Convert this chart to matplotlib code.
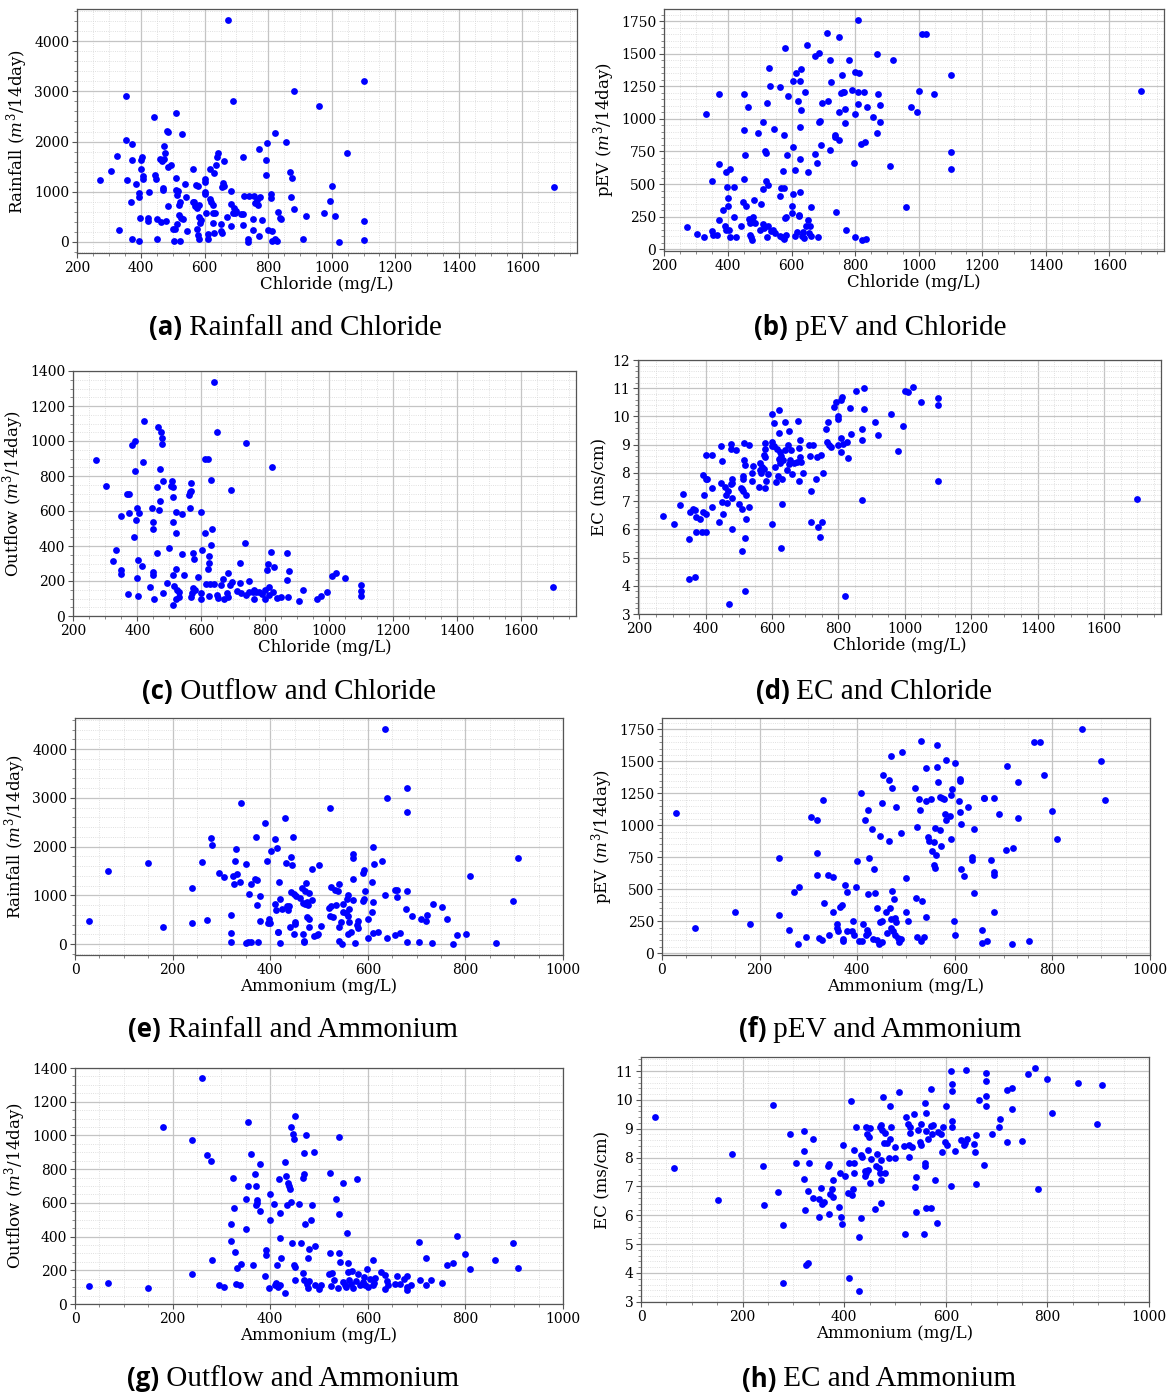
import matplotlib
matplotlib.use("Agg")
import matplotlib.pyplot as plt
from matplotlib.ticker import AutoMinorLocator, MultipleLocator
import numpy as np

plt.rcParams['font.family'] = 'DejaVu Serif'
plt.rcParams['mathtext.fontset'] = 'dejavuserif'

# (a) chloride (mg/L) vs rainfall (m3/14day)
rain_cl = [
    (270, 1230), (305, 1410), (325, 1710), (330, 230), (352, 2900), (353, 2040), (355, 1230),
    (370, 1950), (372, 1640), (372, 50), (367, 800), (385, 1160), (393, 980), (395, 890),
    (393, 20), (398, 480), (400, 1450), (400, 1640), (403, 1700), (405, 1260), (406, 1310),
    (422, 480), (422, 420), (425, 990), (440, 2480), (445, 1330), (448, 1250), (450, 450),
    (450, 50), (460, 1660), (463, 390), (465, 1620), (468, 1040), (470, 1070), (472, 1910),
    (473, 1660), (475, 1780), (480, 420), (482, 2210), (485, 2200), (485, 1500), (485, 710),
    (495, 1530), (500, 260), (503, 20), (508, 260), (510, 2570), (510, 1280), (510, 1030),
    (512, 930), (512, 350), (517, 1010), (520, 530), (520, 740), (522, 800), (523, 20),
    (525, 480), (530, 2160), (532, 460), (538, 1160), (540, 890), (545, 210), (565, 1460),
    (565, 790), (568, 800), (570, 720), (572, 1130), (575, 250), (575, 680), (578, 130),
    (580, 1110), (582, 50), (582, 730), (583, 490), (585, 380), (590, 430), (600, 1200),
    (602, 1250), (602, 1000), (602, 960), (605, 580), (612, 60), (612, 160), (617, 1460),
    (618, 850), (620, 790), (625, 740), (625, 580), (625, 370), (628, 180), (630, 1380),
    (632, 580), (635, 1530), (640, 1700), (642, 1770), (650, 360), (650, 210), (655, 170),
    (655, 1090), (657, 1180), (660, 1120), (662, 1620), (670, 500), (675, 4420), (682, 1020),
    (682, 310), (683, 760), (688, 2800), (690, 570), (692, 670), (695, 580), (700, 620),
    (715, 550), (720, 1700), (722, 550), (722, 330), (725, 920), (735, 0), (738, 50),
    (740, 920), (752, 460), (752, 240), (755, 910), (760, 780), (765, 840), (768, 730),
    (772, 1860), (772, 120), (774, 890), (782, 440), (792, 1330), (794, 1640), (797, 1970),
    (800, 230), (810, 960), (810, 870), (812, 210), (812, 20), (822, 2180), (822, 50),
    (828, 20), (832, 590), (838, 480), (840, 460), (857, 1990), (870, 1390), (872, 890),
    (875, 1270), (880, 3000), (880, 660), (910, 50), (920, 510), (960, 2710), (975, 570),
    (995, 820), (1000, 1110), (1010, 510), (1023, 0), (1048, 1770), (1100, 3200), (1100, 420),
    (1100, 30), (1700, 1100),
]

# (b) chloride vs pEV
pev_cl = [
    (270, 170), (303, 115), (325, 95), (330, 1040), (348, 520), (350, 140), (352, 110),
    (365, 110), (372, 1195), (372, 655), (372, 225), (383, 300), (390, 175), (393, 595),
    (395, 145), (397, 480), (400, 390), (400, 330), (402, 145), (405, 615), (405, 95),
    (418, 250), (420, 480), (425, 95), (440, 175), (447, 365), (450, 1190), (450, 915),
    (450, 535), (452, 720), (455, 330), (462, 1090), (465, 230), (468, 200), (470, 110),
    (472, 90), (475, 70), (478, 250), (480, 210), (483, 375), (485, 200), (493, 895),
    (500, 145), (505, 350), (510, 975), (510, 460), (510, 190), (513, 160), (515, 750),
    (518, 740), (520, 520), (522, 1120), (523, 95), (525, 180), (527, 490), (530, 1395),
    (532, 1255), (535, 140), (540, 150), (543, 925), (548, 120), (562, 100), (565, 1245),
    (565, 410), (568, 470), (570, 95), (572, 600), (575, 80), (577, 880), (577, 470),
    (578, 240), (580, 1545), (582, 250), (582, 105), (585, 725), (590, 1175), (600, 330),
    (602, 280), (603, 1290), (605, 420), (605, 785), (610, 610), (612, 100), (615, 1350),
    (618, 130), (620, 1140), (622, 265), (623, 255), (625, 1290), (625, 940), (625, 435),
    (627, 690), (630, 1385), (630, 1065), (632, 100), (635, 130), (638, 85), (642, 1205),
    (645, 180), (648, 1570), (650, 590), (652, 225), (655, 125), (657, 180), (660, 325),
    (660, 100), (672, 1480), (675, 730), (680, 665), (683, 95), (685, 1510), (685, 975),
    (688, 985), (692, 800), (695, 1120), (712, 1660), (715, 1140), (720, 1450), (722, 765),
    (723, 1285), (735, 880), (737, 865), (740, 285), (748, 1630), (748, 1050), (750, 835),
    (755, 1200), (760, 1340), (762, 1205), (765, 1210), (768, 965), (768, 1075), (770, 145),
    (780, 1455), (790, 1225), (795, 660), (798, 1360), (800, 1040), (800, 95), (808, 1760),
    (810, 1210), (810, 1115), (812, 1350), (818, 810), (820, 70), (828, 1210), (830, 820),
    (835, 75), (838, 1095), (855, 1015), (868, 1500), (870, 895), (873, 1190), (877, 975),
    (877, 1105), (908, 635), (920, 1455), (960, 325), (975, 1095), (995, 1055), (1000, 1215),
    (1010, 1655), (1022, 1650), (1048, 1195), (1100, 1340), (1100, 745), (1100, 615),
    (1700, 1215),
]

# (c) chloride vs outflow
out_cl = [
    (270, 890), (303, 745), (325, 315), (332, 375), (350, 570), (350, 265), (350, 240),
    (368, 700), (372, 125), (375, 700), (375, 590), (383, 975), (390, 450), (392, 830),
    (393, 1000), (397, 550), (400, 620), (400, 215), (402, 320), (402, 115), (405, 590),
    (415, 285), (418, 880), (422, 1115), (440, 165), (447, 615), (448, 535), (448, 250),
    (448, 235), (450, 500), (453, 100), (460, 740), (462, 360), (465, 1080), (468, 605),
    (470, 840), (470, 655), (473, 1050), (478, 1015), (478, 985), (480, 770), (480, 130),
    (493, 190), (500, 390), (505, 745), (508, 770), (510, 735), (510, 680), (510, 540),
    (510, 235), (510, 65), (515, 170), (520, 595), (520, 475), (520, 270), (522, 100),
    (525, 150), (530, 110), (530, 140), (538, 585), (538, 355), (545, 235), (562, 690),
    (565, 620), (565, 710), (568, 715), (568, 760), (568, 110), (572, 130), (575, 160),
    (575, 360), (578, 325), (580, 150), (588, 225), (600, 595), (600, 130), (600, 100),
    (603, 375), (610, 900), (612, 475), (615, 185), (620, 895), (622, 270), (623, 305),
    (623, 345), (625, 115), (628, 185), (630, 775), (630, 405), (632, 500), (638, 1340),
    (640, 185), (648, 1050), (650, 120), (653, 105), (660, 180), (668, 210), (672, 95),
    (680, 130), (682, 245), (683, 110), (690, 180), (693, 720), (695, 195), (710, 145),
    (720, 305), (720, 190), (725, 130), (735, 420), (738, 990), (740, 120), (748, 200),
    (750, 135), (760, 140), (765, 100), (765, 150), (770, 140), (780, 140), (790, 125),
    (798, 100), (800, 150), (805, 265), (808, 300), (810, 165), (812, 120), (818, 365),
    (820, 850), (825, 140), (828, 280), (835, 105), (850, 110), (868, 360), (868, 205),
    (870, 110), (875, 260), (905, 85), (918, 150), (960, 100), (975, 115), (993, 135),
    (1010, 230), (1020, 245), (1048, 215), (1100, 180), (1100, 145), (1100, 115), (1700, 165),
]

# (d) chloride vs EC
ec_cl = [
    (272, 6.48), (305, 6.18), (322, 6.85), (332, 7.25), (352, 6.62), (350, 5.67), (350, 4.23),
    (362, 6.72), (368, 4.32), (368, 6.68), (370, 5.9), (372, 6.42), (383, 6.35), (390, 5.9),
    (392, 7.93), (393, 6.62), (395, 7.2), (400, 6.55), (400, 5.92), (400, 7.8), (402, 8.65),
    (405, 7.8), (418, 8.65), (418, 7.47), (420, 6.8), (440, 6.27), (445, 8.95), (446, 7.65),
    (448, 6.97), (450, 8.42), (452, 6.55), (458, 7.5), (460, 7.2), (463, 6.95), (468, 7.35),
    (470, 3.36), (475, 9.02), (475, 7.6), (477, 8.83), (479, 7.65), (480, 7.8), (480, 6.0),
    (480, 7.1), (490, 8.8), (500, 6.88), (505, 7.45), (508, 7.42), (510, 6.73), (510, 5.23),
    (512, 7.9), (512, 7.8), (512, 7.35), (515, 9.05), (515, 8.45), (518, 8.27), (518, 5.7),
    (518, 3.8), (522, 7.2), (522, 6.38), (530, 9.0), (530, 6.78), (540, 7.98), (540, 7.7),
    (542, 8.25), (560, 7.5), (563, 8.35), (565, 8.1), (568, 8.0), (570, 8.2), (575, 8.65),
    (575, 8.15), (578, 7.45), (580, 9.05), (580, 8.85), (580, 8.55), (582, 7.72), (588, 7.95),
    (600, 9.1), (600, 8.95), (600, 6.2), (600, 10.1), (605, 8.95), (607, 9.75), (608, 8.22),
    (612, 7.68), (615, 8.85), (618, 7.9), (620, 10.23), (620, 9.4), (620, 8.5), (623, 8.75),
    (625, 8.35), (627, 5.33), (628, 8.6), (630, 7.8), (630, 6.9), (632, 8.45), (638, 9.8),
    (640, 8.8), (645, 8.1), (648, 9.0), (650, 9.5), (650, 8.3), (655, 8.45), (658, 8.8),
    (660, 7.97), (665, 8.35), (675, 8.4), (678, 9.85), (680, 8.88), (682, 7.72), (683, 8.55),
    (685, 9.15), (687, 8.4), (692, 7.98), (712, 9.0), (715, 8.6), (717, 7.35), (718, 6.27),
    (722, 8.98), (732, 7.8), (735, 8.55), (738, 6.1), (745, 5.72), (748, 8.65), (750, 6.27),
    (752, 8.0), (762, 9.55), (765, 9.1), (770, 9.8), (772, 9.0), (778, 8.9), (788, 10.32),
    (792, 10.52), (798, 10.0), (800, 9.9), (800, 9.0), (808, 10.6), (808, 9.25), (808, 8.75),
    (810, 10.7), (815, 9.02), (820, 3.65), (825, 9.1), (830, 8.52), (835, 10.3), (838, 9.38),
    (852, 10.9), (870, 9.55), (870, 9.15), (872, 7.05), (878, 11.0), (878, 10.27), (910, 9.8),
    (918, 9.35), (958, 10.1), (978, 8.78), (995, 9.65), (1000, 10.9), (1010, 10.88),
    (1025, 11.05), (1050, 10.5), (1100, 10.65), (1100, 10.4), (1100, 7.7), (1700, 7.07),
]

# (e) ammonium (mg/L) vs rainfall
rain_nh = [
    (28, 480), (67, 1500), (150, 1660), (180, 360), (240, 1160), (240, 430), (260, 1680),
    (270, 500), (278, 2180), (280, 2030), (295, 1470), (305, 1370), (320, 590), (320, 230),
    (320, 50), (323, 1400), (325, 1230), (328, 1710), (330, 1950), (332, 1440), (338, 1270),
    (340, 2890), (350, 1640), (350, 20), (355, 50), (357, 1040), (360, 40), (360, 1230),
    (368, 1330), (370, 2190), (372, 1310), (373, 800), (375, 50), (380, 980), (380, 480),
    (390, 2480), (393, 1700), (395, 430), (397, 520), (400, 430), (402, 1910), (410, 2160),
    (410, 820), (412, 700), (413, 1970), (415, 250), (417, 260), (418, 1280), (420, 20),
    (420, 920), (425, 720), (430, 2580), (432, 1660), (435, 780), (436, 700), (438, 790),
    (440, 360), (442, 1790), (443, 1070), (445, 1620), (446, 2210), (448, 210), (448, 1040),
    (450, 410), (450, 460), (453, 990), (462, 940), (465, 1150), (467, 200), (468, 850),
    (470, 40), (470, 70), (472, 1100), (472, 830), (473, 1250), (475, 550), (475, 870),
    (478, 800), (480, 360), (480, 1050), (480, 510), (485, 900), (485, 1540), (490, 160),
    (495, 190), (498, 220), (500, 1630), (505, 380), (520, 740), (522, 2800), (523, 580),
    (525, 780), (525, 1170), (528, 550), (532, 1120), (535, 800), (538, 1100), (540, 1240),
    (540, 350), (540, 60), (545, 450), (548, 10), (550, 820), (550, 660), (555, 640),
    (558, 930), (560, 200), (560, 570), (560, 1010), (562, 460), (562, 730), (565, 250),
    (570, 1860), (570, 1770), (570, 1340), (570, 910), (573, 20), (578, 390), (580, 330),
    (580, 470), (590, 880), (590, 1460), (592, 1530), (593, 920), (595, 1100), (600, 520),
    (600, 120), (608, 1270), (608, 660), (610, 870), (610, 1990), (610, 230), (612, 1650),
    (620, 250), (630, 1700), (635, 4420), (635, 1020), (640, 3000), (640, 120), (655, 180),
    (655, 1120), (660, 1110), (660, 960), (665, 230), (678, 730), (680, 3200), (680, 2710),
    (680, 1100), (680, 50), (690, 570), (705, 50), (708, 520), (720, 470), (722, 590),
    (732, 30), (733, 820), (752, 770), (762, 520), (775, 0), (783, 180), (802, 210),
    (810, 1390), (862, 20), (898, 890), (908, 1770),
]

# (f) ammonium vs pEV
pev_nh = [
    (28, 1095), (67, 195), (150, 325), (180, 225), (240, 745), (240, 300), (260, 180),
    (270, 480), (278, 70), (280, 520), (295, 130), (305, 1065), (318, 1040), (318, 785),
    (318, 610), (322, 115), (328, 100), (330, 1195), (332, 390), (340, 615), (342, 140),
    (350, 595), (350, 325), (358, 225), (358, 195), (360, 170), (365, 365), (368, 375),
    (370, 110), (370, 95), (375, 530), (380, 175), (380, 480), (390, 175), (392, 250),
    (393, 140), (397, 520), (400, 720), (403, 95), (410, 95), (408, 1255), (412, 225),
    (415, 1040), (418, 145), (420, 180), (422, 1120), (422, 460), (423, 160), (425, 745),
    (430, 975), (432, 110), (435, 655), (437, 470), (440, 350), (440, 100), (445, 70),
    (446, 240), (447, 920), (450, 90), (450, 250), (450, 1175), (452, 1395), (460, 325),
    (462, 160), (465, 880), (465, 1355), (468, 350), (470, 1545), (470, 195), (470, 265),
    (472, 1290), (472, 485), (473, 170), (475, 425), (477, 145), (478, 275), (480, 240),
    (480, 1140), (483, 120), (485, 90), (490, 940), (490, 110), (492, 1570), (500, 590),
    (500, 320), (505, 250), (518, 1290), (520, 435), (522, 985), (523, 125), (527, 1205),
    (528, 1120), (530, 1660), (530, 95), (533, 410), (537, 125), (540, 1190), (542, 1450),
    (542, 285), (545, 910), (548, 880), (552, 1205), (553, 800), (558, 690), (558, 870),
    (560, 980), (560, 670), (562, 765), (563, 1630), (563, 1455), (565, 1340), (570, 965),
    (570, 1220), (572, 835), (573, 1210), (577, 1205), (580, 1090), (582, 1510), (582, 1045),
    (590, 1075), (592, 895), (592, 1240), (595, 1285), (598, 250), (600, 1485), (600, 140),
    (608, 1190), (610, 1360), (610, 1345), (610, 1105), (612, 1010), (612, 660), (618, 600),
    (628, 1140), (635, 730), (635, 750), (640, 975), (640, 470), (655, 180), (655, 80),
    (660, 1210), (660, 1215), (665, 95), (675, 725), (680, 1215), (680, 635), (680, 615),
    (680, 325), (690, 1090), (705, 810), (707, 1460), (718, 75), (720, 820), (730, 1340),
    (730, 1055), (752, 95), (762, 1655), (775, 1650), (782, 1390), (800, 1115), (810, 895),
    (860, 1755), (900, 1500), (908, 1195),
]

# (g) ammonium vs outflow
out_nh = [
    (28, 105), (67, 125), (150, 95), (180, 1050), (240, 975), (240, 180), (260, 1340),
    (270, 885), (278, 850), (280, 260), (295, 110), (305, 100), (320, 475), (320, 375),
    (323, 745), (325, 570), (328, 310), (330, 120), (332, 215), (338, 110), (340, 235),
    (350, 620), (350, 445), (355, 1080), (355, 700), (360, 890), (365, 230), (368, 770),
    (370, 700), (370, 590), (372, 600), (373, 615), (380, 830), (380, 550), (390, 165),
    (392, 320), (392, 290), (397, 95), (400, 655), (400, 500), (408, 595), (410, 110),
    (412, 125), (414, 230), (415, 100), (418, 740), (420, 540), (420, 390), (420, 110),
    (423, 270), (430, 840), (430, 65), (433, 760), (435, 590), (436, 715), (438, 700),
    (440, 680), (443, 605), (443, 1050), (445, 360), (447, 1010), (448, 980), (448, 230),
    (450, 220), (450, 1115), (450, 145), (460, 595), (463, 360), (467, 185), (468, 750),
    (470, 770), (470, 895), (470, 145), (472, 475), (473, 1000), (475, 120), (477, 95),
    (478, 270), (480, 325), (480, 135), (483, 500), (485, 585), (490, 900), (492, 345),
    (492, 115), (500, 90), (505, 115), (520, 180), (522, 775), (522, 300), (525, 105),
    (527, 185), (530, 140), (535, 620), (538, 95), (540, 990), (540, 535), (540, 300),
    (543, 250), (550, 720), (550, 130), (553, 115), (556, 100), (558, 420), (560, 245),
    (560, 190), (562, 140), (565, 120), (568, 195), (570, 95), (575, 135), (578, 740),
    (580, 180), (585, 115), (590, 130), (592, 160), (595, 115), (598, 205), (600, 100),
    (605, 150), (610, 110), (610, 260), (612, 125), (615, 155), (628, 190), (635, 90),
    (635, 175), (640, 135), (642, 110), (655, 120), (660, 165), (665, 120), (675, 150),
    (680, 165), (680, 100), (680, 85), (688, 115), (705, 365), (707, 145), (720, 275),
    (720, 115), (730, 140), (752, 125), (762, 230), (775, 245), (782, 405), (800, 295),
    (810, 205), (860, 260), (898, 360), (908, 215),
]

# (h) ammonium vs EC
ec_nh = [
    (28, 9.42), (65, 7.65), (152, 6.53), (180, 8.13), (240, 7.72), (242, 6.35), (260, 9.82),
    (270, 6.82), (280, 5.68), (280, 3.65), (293, 8.82), (305, 7.82), (320, 8.92), (320, 8.23),
    (320, 7.25), (322, 6.2), (325, 4.27), (328, 4.35), (328, 6.85), (330, 7.8), (338, 6.6),
    (338, 8.65), (350, 6.55), (350, 5.95), (355, 6.95), (357, 6.4), (360, 6.45), (368, 7.72),
    (370, 7.78), (370, 6.05), (372, 6.75), (375, 6.92), (378, 7.22), (378, 6.65), (390, 6.28),
    (392, 7.47), (393, 5.95), (395, 5.7), (398, 8.45), (402, 7.35), (408, 6.78), (410, 7.82),
    (410, 3.82), (413, 9.95), (415, 6.7), (418, 6.9), (420, 7.82), (420, 7.48), (420, 8.27),
    (423, 9.07), (430, 5.25), (430, 3.38), (433, 5.9), (433, 8.1), (435, 8.02), (440, 7.35),
    (440, 7.55), (443, 7.48), (443, 9.05), (445, 8.8), (446, 8.27), (447, 7.58), (448, 8.7),
    (450, 9.02), (450, 7.13), (452, 7.95), (460, 6.22), (462, 7.72), (465, 8.12), (468, 7.65),
    (470, 7.48), (470, 9.05), (472, 9.12), (472, 7.22), (472, 6.42), (473, 7.93), (475, 8.95),
    (477, 10.1), (478, 8.52), (480, 8.85), (480, 7.45), (485, 8.52), (488, 7.98), (490, 8.65),
    (490, 9.78), (493, 9.05), (500, 8.35), (500, 7.98), (508, 10.27), (518, 8.4), (520, 5.35),
    (522, 9.42), (525, 9.15), (527, 8.45), (528, 8.02), (530, 9.05), (530, 8.85), (533, 8.37),
    (538, 9.5), (540, 6.98), (542, 7.32), (542, 6.1), (545, 8.95), (550, 8.55), (552, 9.15),
    (552, 8.45), (558, 5.35), (560, 7.82), (560, 7.72), (560, 9.88), (562, 6.25), (562, 9.55),
    (562, 8.92), (565, 8.65), (570, 10.38), (570, 6.25), (570, 9.08), (572, 8.8), (575, 9.12),
    (578, 7.22), (582, 5.72), (585, 8.88), (590, 8.8), (592, 8.18), (595, 9.05), (598, 8.55),
    (600, 9.78), (602, 8.45), (610, 7.03), (610, 11.0), (612, 10.3), (612, 10.55), (612, 9.27),
    (612, 9.05), (618, 8.23), (630, 8.6), (635, 8.42), (638, 8.52), (640, 11.02), (642, 8.65),
    (655, 8.48), (657, 8.2), (660, 8.78), (660, 7.1), (665, 10.0), (675, 7.75), (680, 10.93),
    (680, 10.67), (680, 10.13), (680, 9.78), (690, 8.82), (705, 9.05), (707, 9.35), (720, 10.33),
    (720, 8.55), (730, 10.4), (730, 9.67), (750, 8.58), (762, 10.88), (775, 11.1), (782, 6.92),
    (800, 10.73), (810, 9.55), (860, 10.57), (898, 9.17), (908, 10.5),
]

RAIN = 'Rainfall ($m^3$/14day)'
PEV = 'pEV ($m^3$/14day)'
OUT = 'Outflow ($m^3$/14day)'
EC = 'EC (ms/cm)'
CL = 'Chloride (mg/L)'
NH = 'Ammonium (mg/L)'

W, H = 1170, 1396
fig = plt.figure(figsize=(W / 100, H / 100), dpi=100)


def panel(box, pts, xlabel, ylabel, xstep, ystep, xlim=None, ylim=None):
    left, top, right, bottom = box
    ax = fig.add_axes([left / W, 1 - bottom / H, (right - left) / W, (bottom - top) / H])
    x, y = np.array(pts, dtype=float).T
    ax.plot(x, y, 'o', color='#0000ff', ms=4.9, mew=0, zorder=3)
    if xlim:
        ax.set_xlim(*xlim)
    if ylim:
        ax.set_ylim(*ylim)
    ax.xaxis.set_major_locator(MultipleLocator(xstep))
    ax.yaxis.set_major_locator(MultipleLocator(ystep))
    ax.xaxis.set_minor_locator(AutoMinorLocator())
    ax.yaxis.set_minor_locator(AutoMinorLocator())
    ax.set_axisbelow(True)
    ax.grid(which='major', color='#c4c4c4', lw=0.9)
    ax.grid(which='minor', color='#d6d6d6', lw=0.6, ls=':')
    for s in ax.spines.values():
        s.set_color('#555555')
        s.set_linewidth(0.9)
    ax.tick_params(which='major', length=3.5, width=0.8, color='#555555', labelsize=10, pad=2)
    ax.tick_params(which='minor', length=2, width=0.6, color='#777777')
    ax.set_xlabel(xlabel, fontsize=12, labelpad=1)
    ax.set_ylabel(ylabel, fontsize=12, labelpad=3)
    return ax


def caption(cx, cy, tag, text):
    r = fig.canvas.get_renderer()
    t1 = fig.text(0, 1 - cy / H, tag, family='Open Sans', weight='bold', fontsize=18.5, va='center')
    t2 = fig.text(0, 1 - cy / H, ' ' + text, family='Liberation Serif', fontsize=21, va='center')
    w1 = t1.get_window_extent(r).width
    w2 = t2.get_window_extent(r).width
    x0 = cx - (w1 + w2) / 2
    t1.set_x(x0 / W)
    t2.set_x((x0 + w1) / W)


panel((77, 9, 577, 253), rain_cl, CL, RAIN, 200, 1000)
panel((664, 9, 1164, 251), pev_cl, CL, PEV, 200, 250)
panel((73, 371, 576, 616), out_cl, CL, OUT, 200, 200, ylim=(0, 1400))
panel((638, 360, 1161, 614), ec_cl, CL, EC, 200, 1, xlim=(196, 1772), ylim=(3, 12))
panel((75, 718, 563, 955), rain_nh, NH, RAIN, 200, 1000, xlim=(0, 1000))
panel((662, 718, 1150, 955), pev_nh, NH, PEV, 200, 250, xlim=(0, 1000))
panel((75, 1068, 563, 1304), out_nh, NH, OUT, 200, 200, xlim=(0, 1000), ylim=(0, 1400))
panel((641, 1057, 1149, 1302), ec_nh, NH, EC, 200, 1, xlim=(0, 1000))

caption(295, 328, '(a)', 'Rainfall and Chloride')
caption(880, 328, '(b)', 'pEV and Chloride')
caption(289, 692, '(c)', 'Outflow and Chloride')
caption(874, 692, '(d)', 'EC and Chloride')
caption(293, 1030, '(e)', 'Rainfall and Ammonium')
caption(880, 1030, '(f)', 'pEV and Ammonium')
caption(293, 1379, '(g)', 'Outflow and Ammonium')
caption(879, 1379, '(h)', 'EC and Ammonium')

fig.savefig('out.png', dpi=100)
